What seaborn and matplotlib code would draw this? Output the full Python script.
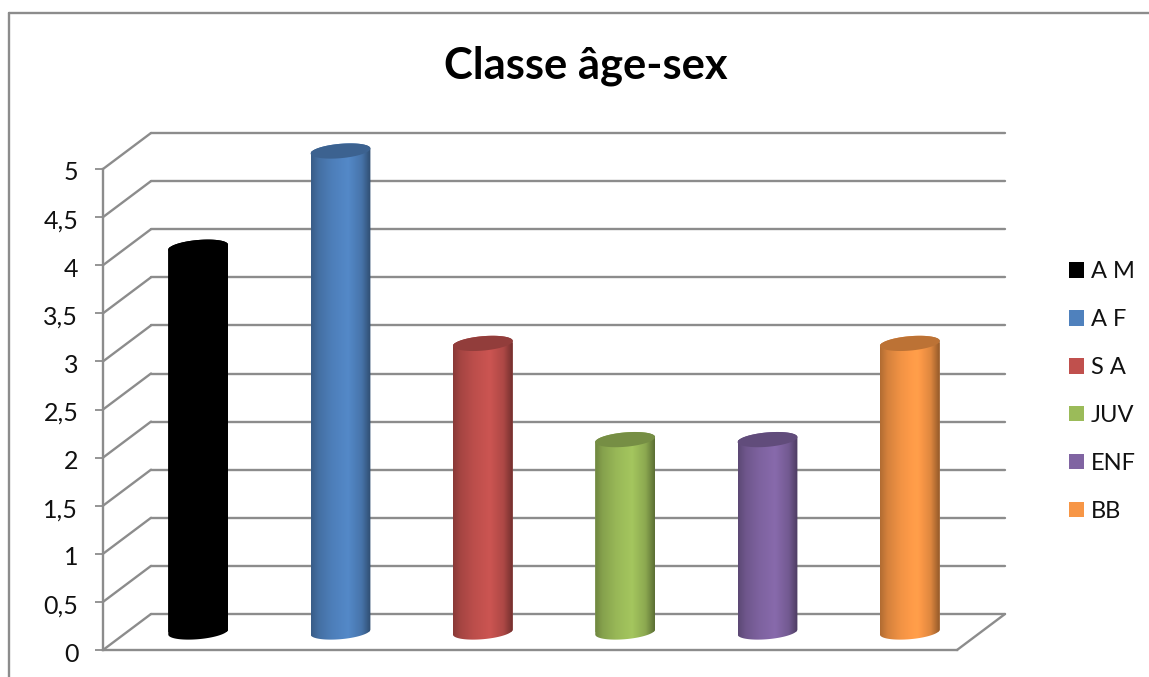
import numpy as np
import pandas as pd
import matplotlib
matplotlib.use("Agg")
import matplotlib.pyplot as plt
import matplotlib.transforms as mtrans
from matplotlib.patches import Patch, PathPatch
from matplotlib.path import Path
import seaborn as sns

categories = ["A M", "A F", "S A", "JUV", "ENF", "BB"]
values = [4, 5, 3, 2, 2, 3]
colors = ["#000000", "#4F81BD", "#C0504D", "#9BBB59", "#8064A2", "#F79646"]
tick_values = [0, 0.5, 1, 1.5, 2, 2.5, 3, 3.5, 4, 4.5, 5]
tick_labels = ["0", "0,5", "1", "1,5", "2", "2,5", "3", "3,5", "4", "4,5", "5"]
title = "Classe âge-sex"

W, H = 1149, 677
LINE = "#8c8c8c"
sns.set_theme(style="white")
plt.rcParams["font.family"] = ["Lato", "DejaVu Sans"]

fig = plt.figure(figsize=(W / 100, H / 100), dpi=100, facecolor="white")

# Front plane of the pseudo-3D box, in figure pixels
left, right, bottom, top = 103, 957, 650, 169
ax = fig.add_axes([left / W, 1 - bottom / H, (right - left) / W, (bottom - top) / H])
ax.set_facecolor("none")

df = pd.DataFrame({"classe": categories, "n": values})
sns.barplot(data=df, x="classe", y="n", hue="classe", palette=colors, order=categories,
            hue_order=categories, width=0.42, dodge=False, legend=False, ax=ax, zorder=3)
ax.set_xlim(-0.5, 5.5)
ax.set_ylim(0, 5)
ax.set_xlabel("")
ax.set_ylabel("")

# Depth offsets: the bars stand mid-way in the box, the grid on its back wall
mid_plane = mtrans.offset_copy(ax.transData, fig=fig, x=24, y=18, units="dots")
back_plane = mtrans.offset_copy(ax.transData, fig=fig, x=48, y=36, units="dots")

px_x = (right - left) / 6
px_y = (bottom - top) / 5

# Back wall gridlines and the slanted lines joining them to the axis
for v in tick_values:
    ax.plot([-0.5, 5.5], [v, v], color=LINE, lw=1.7, transform=back_plane,
            clip_on=False, zorder=1, solid_capstyle="round")
    ax.plot([-0.5, -0.5 + 48 / px_x], [v, v + 36 / px_y], color=LINE, lw=1.7,
            clip_on=False, zorder=1)
ax.plot([5.5, 5.5 + 48 / px_x], [0, 36 / px_y], color=LINE, lw=1.7, clip_on=False, zorder=1)

for side in ("top", "right"):
    ax.spines[side].set_visible(False)
for side in ("left", "bottom"):
    ax.spines[side].set_color(LINE)
    ax.spines[side].set_linewidth(1.7)
    ax.spines[side].set_zorder(2)

ax.set_xticks([])
ax.set_yticks(tick_values)
ax.set_yticklabels(tick_labels, fontsize=18, color="#111111")
ax.tick_params(axis="y", left=True, length=5.8, width=1.3, color=LINE, pad=12)
for lab in ax.get_yticklabels():
    lab.set_verticalalignment("center")
    lab.set_transform(lab.get_transform() + mtrans.Affine2D().translate(0, -4))


def ellipse(cx, base, half, start, stop, n=60):
    t = np.linspace(start, stop, n)
    dx = half * np.cos(t)
    dy = (7.2 * np.sin(t) + 2.5 * np.cos(t)) / px_y
    return np.column_stack([cx + dx, base + dy])


# Horizontal shading across a cylinder, dark at the rims and light right of centre
stops = np.array([0.0, 0.12, 0.35, 0.62, 0.85, 1.0])
shade = np.array([0.72, 0.86, 0.98, 1.06, 0.9, 0.6])
xs = np.linspace(0, 1, 64)
profile = np.interp(xs, stops, shade)

for bar, color in zip(ax.patches, colors):
    x0, w, h = bar.get_x(), bar.get_width(), bar.get_height()
    cx, half = x0 + w / 2, w / 2
    rgb = np.array(matplotlib.colors.to_rgb(color))
    lower = ellipse(cx, 0, half, np.pi, 2 * np.pi)
    upper = ellipse(cx, h, half, 0, np.pi)
    outline = Path(np.vstack([lower, upper, lower[:1]]), closed=False)

    bar.set_transform(mid_plane)
    bar.set_clip_path(outline, mid_plane)
    bar.set_clip_box(fig.bbox)
    bar.set_edgecolor("none")

    strip = np.clip(rgb[None, :] * profile[:, None], 0, 1)[None, :, :]
    im = ax.imshow(strip, extent=(x0, x0 + w, -0.2, h + 0.2), aspect="auto",
                   interpolation="bilinear", zorder=4, transform=mid_plane)
    im.set_clip_path(outline, mid_plane)
    im.set_clip_box(fig.bbox)

    cap = ellipse(cx, h, half, 0, 2 * np.pi)
    ax.add_patch(PathPatch(Path(cap), facecolor=np.clip(rgb * 0.76, 0, 1), edgecolor="none",
                           transform=mid_plane, clip_on=False, zorder=5))

ax.set_xlim(-0.5, 5.5)
ax.set_ylim(0, 5)

handles = [Patch(facecolor=c, edgecolor="none", label=n) for c, n in zip(colors, categories)]
fig.legend(handles=handles, loc="center left", bbox_to_anchor=(1069 / W, 1 - 391.5 / H),
           frameon=False, fontsize=17, labelcolor="#111111", handlelength=0.64,
           handleheight=0.64, handletextpad=0.28, labelspacing=1.14,
           borderpad=0, borderaxespad=0)

fig.text(585.5 / W, 1 - 66 / H, title, ha="center", va="center", fontsize=31.3,
         fontweight="bold", color="black")

# Chart-area frame
for xs_px, ys_px in (((9, 9), (13, 677)), ((9, 1149), (13, 13))):
    fig.add_artist(plt.Line2D([c / W for c in xs_px], [1 - c / H for c in ys_px],
                              color=LINE, lw=1.7))

fig.savefig("out.png", dpi=100, facecolor="white")
